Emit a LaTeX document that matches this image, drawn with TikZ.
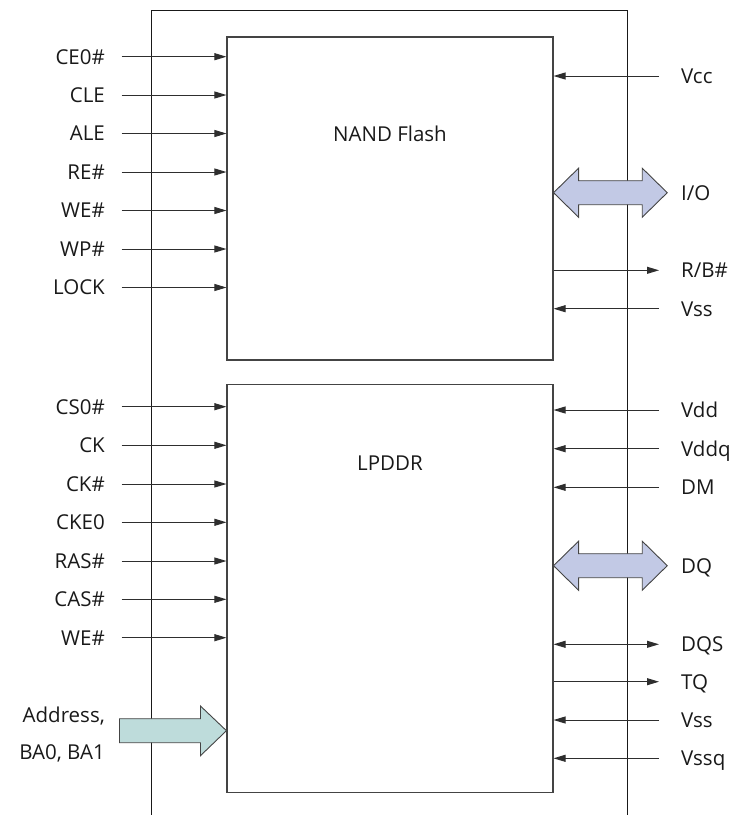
\documentclass[tikz,border=0pt]{standalone}
\usepackage{fontspec}
\setmainfont{Open Sans}
\usetikzlibrary{arrows.meta}
\definecolor{ln}{HTML}{2E2E2E}
\definecolor{bx}{HTML}{444444}
\definecolor{iofill}{HTML}{C2C9E5}
\definecolor{adfill}{HTML}{BEDCDB}
\tikzset{
  chip/.style={draw=bx, line width=1.1pt, fill=none, inner sep=0pt},
  lab/.style={font=\fontsize{20.5}{24}\selectfont, text=black!90, inner sep=0pt, text height=14.6pt, text depth=0pt},
  llab/.style={lab, anchor=east},
  rlab/.style={lab, anchor=west},
  sig/.style={draw=ln, line width=0.95pt, -{Triangle[length=12pt,width=7pt]}},
  bisig/.style={draw=ln, line width=0.95pt, {Triangle[length=12pt,width=7pt]}-{Triangle[length=12pt,width=7pt]}},
  fat/.style={draw=bx, line width=0.9pt, line join=miter},
}
\begin{document}
\begin{tikzpicture}[x=1pt,y=-1pt]
\useasboundingbox (0,0) rectangle (738,815);
% outer frame
\draw[draw=black!90, line width=1pt] (151.5,815) -- (151.5,10) -- (627,10) -- (627,815);
% chips
\node[chip, minimum width=326pt, minimum height=323pt] (nand) at (390,198.5) {};
\node[chip, minimum width=326pt, minimum height=408.5pt] (lpddr) at (390,588.3) {};
\node[lab] (nandlbl) at (390,134) {NAND Flash};
\node[lab] (lpddrlbl) at (390,463) {LPDDR};
% left NAND labels
\foreach \n/\t/\y in {ce/CE0\#/56.7, cle/CLE/95, ale/ALE/133.5, re/RE\#/172, we/WE\#/210.5, wp/WP\#/249, lock/LOCK/287.5}{
  \node[llab] (\n) at (105,\y) {\t};
  \draw[sig, shorten <=16.5pt] (\n.east) -- (\n.east -| nand.west);
}
% left LPDDR labels
\foreach \n/\t/\y in {cs/CS0\#/406.7, ck/CK/445.3, ckn/CK\#/484, cke/CKE0/522.3, ras/RAS\#/561, cas/CAS\#/599.3, wel/WE\#/637.7}{
  \node[llab] (\n) at (105,\y) {\t};
  \draw[sig, shorten <=16.5pt] (\n.east) -- (\n.east -| lpddr.west);
}
% right NAND labels
\foreach \n/\t/\y in {vcc/Vcc/76, vss/Vss/308.7}{
  \node[rlab] (\n) at (681,\y) {\t};
  \draw[sig, shorten <=22pt] (\n.west) -- (\n.west -| nand.east);
}
\node[rlab] (rb) at (681,270.3) {R/B\#};
\draw[sig, shorten >=22pt] (rb.west -| nand.east) -- (rb.west);
\node[rlab] (io) at (681,192.7) {I/O};
% right LPDDR labels
\foreach \n/\t/\y in {vdd/Vdd/410, vddq/Vddq/448.7, dm/DM/487.3, vssl/Vss/720, vssq/Vssq/758.3}{
  \node[rlab] (\n) at (681,\y) {\t};
  \draw[sig, shorten <=22pt] (\n.west) -- (\n.west -| lpddr.east);
}
\node[rlab] (tq) at (681,681.7) {TQ};
\draw[sig, shorten >=22pt] (tq.west -| lpddr.east) -- (tq.west);
\node[rlab] (dqs) at (681,644.3) {DQS};
\draw[bisig, shorten >=22pt] (dqs.west -| lpddr.east) -- (dqs.west);
\node[rlab] (dq) at (681,565.7) {DQ};
% fat double arrows
\coordinate (iot) at (io.west -| nand.east);
\draw[fat, fill=iofill] (iot) -- ++(25,-24.5) -- ++(0,12.5) -- ++(63.7,0) -- ++(0,-12.5) -- ++(25,24.5) -- ++(-25,24.5) -- ++(0,-12.5) -- ++(-63.7,0) -- ++(0,12.5) -- cycle;
\coordinate (dqt) at (dq.west -| lpddr.east);
\draw[fat, fill=iofill] (dqt) -- ++(25,-24.5) -- ++(0,12.5) -- ++(63.7,0) -- ++(0,-12.5) -- ++(25,24.5) -- ++(-25,24.5) -- ++(0,-12.5) -- ++(-63.7,0) -- ++(0,12.5) -- cycle;
% address fat arrow
\node[llab] (addr1) at (105,715) {Address,};
\node[llab] (addr2) at (105,752) {BA0, BA1};
\coordinate (adt) at (lpddr.west |- 0,730.7);
\draw[fat, fill=adfill] (adt) -- ++(-26,-24.7) -- ++(0,12.7) -- ++(-81,0) -- ++(0,24) -- ++(81,0) -- ++(0,13) -- cycle;
\end{tikzpicture}
\end{document}
